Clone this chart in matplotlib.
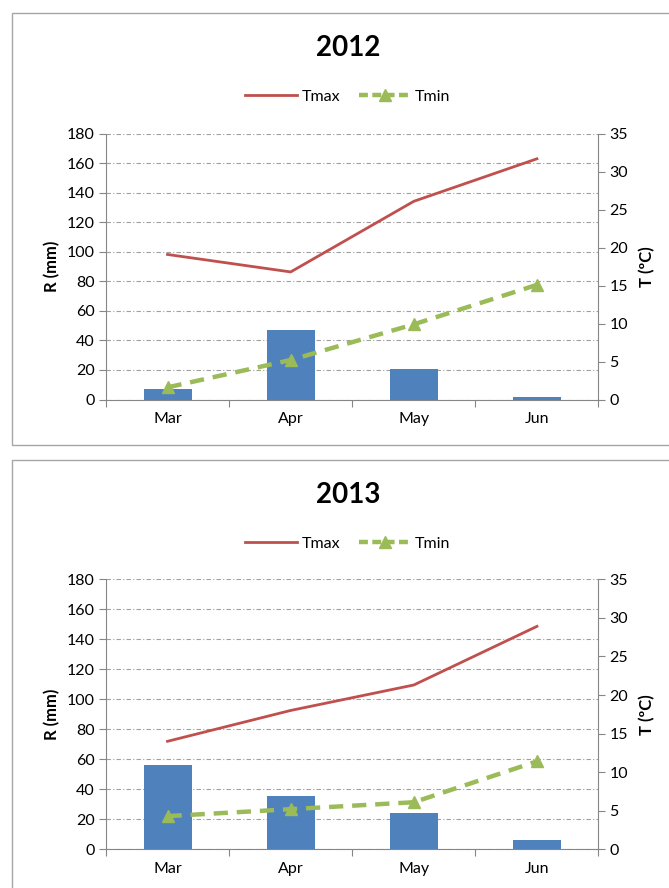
import matplotlib.pyplot as plt
from matplotlib.patches import Rectangle
from matplotlib.lines import Line2D
import numpy as np

plt.rcParams['font.family'] = ['Lato', 'DejaVu Sans']

months = ['Mar', 'Apr', 'May', 'Jun']
years = ['2012', '2013']
rain_2012 = [7, 47, 21, 2]
tmax_2012 = [19.1, 16.8, 26.1, 31.7]
tmin_2012 = [1.6, 5.2, 9.9, 15.1]
rain_2013 = [56.5, 35.5, 24.5, 6]
tmax_2013 = [14.0, 18.0, 21.3, 28.9]
tmin_2013 = [4.3, 5.2, 6.1, 11.4]

BLUE = '#4F81BD'
RED = '#C0504D'
GREEN = '#9BBB59'
AXC = '#868686'

fig = plt.figure(figsize=(6.69, 8.88), dpi=100)

# panel frames
fig.patches.append(Rectangle((0.018, 0.499), 1.0, 0.486, transform=fig.transFigure,
                             fill=False, edgecolor='#A6A6A6', lw=1.0))
fig.patches.append(Rectangle((0.018, -0.05), 1.0, 0.532, transform=fig.transFigure,
                             fill=False, edgecolor='#A6A6A6', lw=1.0))

panels = [
    (years[0], rain_2012, tmax_2012, tmin_2012, [0.1584, 0.5501, 0.7362, 0.2993], 0.946, 0.891),
    (years[1], rain_2013, tmax_2013, tmin_2013, [0.1584, 0.0436, 0.7362, 0.3040], 0.443, 0.388),
]

for title, rain, tmax, tmin, rect, ty, ly in panels:
    ax = fig.add_axes(rect)
    x = np.arange(len(months))
    ax.bar(x, rain, width=0.39, color=BLUE, zorder=3)
    ax.set_xlim(-0.5, 3.5)
    ax.set_ylim(0, 180)
    ax.set_yticks(np.arange(0, 181, 20))
    ax.yaxis.grid(True, color='#A0A0A0', lw=0.8, linestyle=(0, (4, 2, 1, 2)), zorder=0)
    ax.set_axisbelow(True)
    ax.set_xticks(np.arange(-0.5, 3.6, 1))
    ax.set_xticklabels([])
    ax.set_xticks(x, minor=True)
    ax.set_xticklabels(months, minor=True)
    ax.tick_params(axis='x', which='major', length=5, color=AXC, width=0.8)
    ax.tick_params(axis='x', which='minor', length=0, pad=9, labelsize=11.5)
    ax.tick_params(axis='y', length=5, color=AXC, width=0.8, labelsize=11.5, pad=3)
    for s in ['top', 'right']:
        ax.spines[s].set_visible(False)
    for s in ['left', 'bottom']:
        ax.spines[s].set_color(AXC)
        ax.spines[s].set_linewidth(0.8)
    ax.set_ylabel('R (mm)', fontsize=12, fontweight='bold', labelpad=5)

    ax2 = ax.twinx()
    ax2.plot(x, tmax, color=RED, lw=2.0, zorder=4)
    ax2.plot(x, tmin, color=GREEN, lw=3.2, linestyle=(0, (3.2, 2.0)),
             marker='^', markersize=9, zorder=4)
    ax2.set_ylim(0, 35)
    ax2.set_yticks(np.arange(0, 36, 5))
    ax2.tick_params(axis='y', length=5, color=AXC, width=0.8, labelsize=11.5, pad=3)
    for s in ['top', 'left', 'bottom']:
        ax2.spines[s].set_visible(False)
    ax2.spines['right'].set_color(AXC)
    ax2.spines['right'].set_linewidth(0.8)
    ax2.set_ylabel('T (ºC)', fontsize=12, fontweight='bold', labelpad=8)

    fig.text(0.52, ty, title, ha='center', va='center', fontsize=20, fontweight='bold')
    handles = [Line2D([], [], color=RED, lw=2.0),
               Line2D([], [], color=GREEN, lw=3.2, linestyle=(0, (2.0, 1.0)),
                      marker='^', markersize=8)]
    fig.legend(handles, ['Tmax', 'Tmin'], loc='center', bbox_to_anchor=(0.52, ly),
               ncol=2, frameon=False, fontsize=11.5, handlelength=3.2,
               handletextpad=0.3, columnspacing=1.2)

fig.savefig('out.png', dpi=100)
